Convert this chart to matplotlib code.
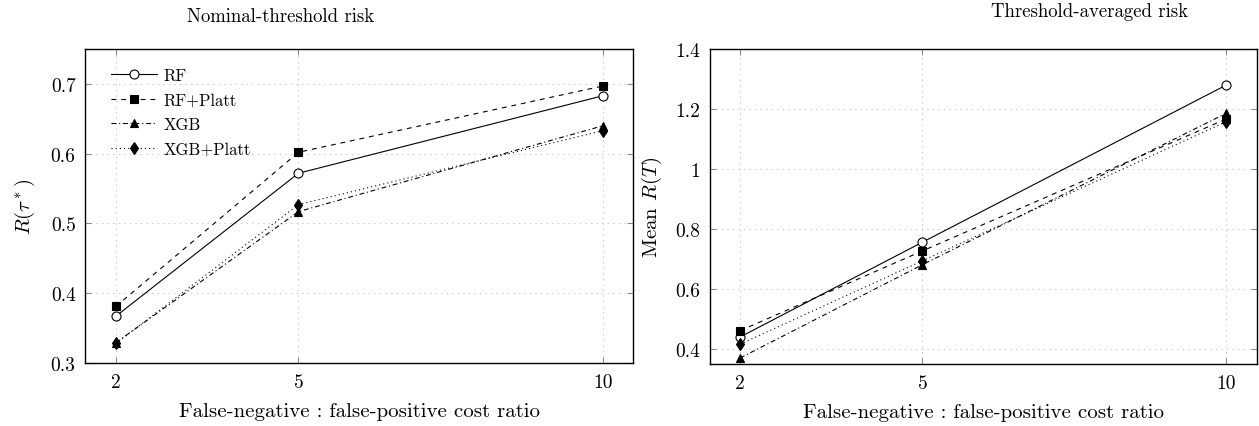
import matplotlib
matplotlib.use("Agg")
import matplotlib.pyplot as plt

plt.rcParams['font.family'] = ['cmr10', 'DejaVu Serif']
plt.rcParams['mathtext.fontset'] = 'cm'
plt.rcParams['axes.formatter.use_mathtext'] = True
plt.rcParams['lines.scale_dashes'] = False

# ---- data ----
cost_ratio = [2, 5, 10]
series_names = ["RF", "RF+Platt", "XGB", "XGB+Platt"]

nominal_rf = [0.367, 0.572, 0.683]
nominal_rf_platt = [0.381, 0.602, 0.697]
nominal_xgb = [0.329, 0.517, 0.640]
nominal_xgb_platt = [0.328, 0.527, 0.633]

avg_rf = [0.440, 0.756, 1.280]
avg_rf_platt = [0.461, 0.727, 1.167]
avg_xgb = [0.370, 0.681, 1.186]
avg_xgb_platt = [0.416, 0.694, 1.158]

left_yticks = [0.3, 0.4, 0.5, 0.6, 0.7]
left_yticklabels = ["0.3", "0.4", "0.5", "0.6", "0.7"]
right_yticks = [0.4, 0.6, 0.8, 1.0, 1.2, 1.4]
right_yticklabels = ["0.4", "0.6", "0.8", "1", "1.2", "1.4"]
xticklabels = ["2", "5", "10"]

styles = [
    dict(linestyle='-', marker='o', markerfacecolor='white', markersize=6.5),
    dict(linestyle=(0, (3.5, 3.5)), marker='s', markerfacecolor='black', markersize=5.5),
    dict(linestyle=(0, (3.5, 2, 0.8, 2)), marker='^', markerfacecolor='black', markersize=6),
    dict(linestyle=(0, (0.8, 2.2)), marker='d', markerfacecolor='black', markersize=6.5),
]

fig = plt.figure(figsize=(12.59, 4.27), dpi=100)
ax1 = fig.add_axes([0.0678, 0.1475, 0.4353, 0.7354])
ax2 = fig.add_axes([0.5637, 0.1452, 0.4345, 0.7377])

def style_axes(ax, yticks, yticklabels, ylim):
    ax.set_xlim(1.5, 10.5)
    ax.set_ylim(*ylim)
    ax.set_xticks(cost_ratio)
    ax.set_xticklabels(xticklabels, fontsize=14)
    ax.set_yticks(yticks)
    ax.set_yticklabels(yticklabels, fontsize=14)
    ax.tick_params(direction='in', length=4, width=0.8, color='#8a8a8a',
                   top=True, right=True, pad=7)
    ax.grid(True, color='#c8c8c8', linestyle=(0, (1, 3)), linewidth=0.7)
    ax.set_axisbelow(True)
    for s in ax.spines.values():
        s.set_linewidth(1.0)
        s.set_color('black')
    ax.set_xlabel("False-negative : false-positive cost ratio", fontsize=15, labelpad=8)

left_data = [nominal_rf, nominal_rf_platt, nominal_xgb, nominal_xgb_platt]
right_data = [avg_rf, avg_rf_platt, avg_xgb, avg_xgb_platt]

for name, ys, st in zip(series_names, left_data, styles):
    ax1.plot(cost_ratio, ys, color='black', linewidth=0.8, markeredgecolor='black',
             markeredgewidth=0.8, label=name, **st)
for name, ys, st in zip(series_names, right_data, styles):
    ax2.plot(cost_ratio, ys, color='black', linewidth=0.8, markeredgecolor='black',
             markeredgewidth=0.8, label=name, **st)

style_axes(ax1, left_yticks, left_yticklabels, (0.3, 0.75))
style_axes(ax2, right_yticks, right_yticklabels, (0.35, 1.4))

ax1.set_ylabel(r"$R(\tau^*)$", fontsize=15, labelpad=10)
ax2.set_ylabel(r"Mean $R(T)$", fontsize=15, labelpad=8)

ax1.text(0.356, 1.105, "Nominal-threshold risk", transform=ax1.transAxes,
         fontsize=13.5, ha='center', va='center')
ax2.text(0.695, 1.121, "Threshold-averaged risk", transform=ax2.transAxes,
         fontsize=13.5, ha='center', va='center')

ax1.legend(loc='upper left', frameon=False, fontsize=12, handlelength=2.75,
           handletextpad=0.4, labelspacing=0.55, borderaxespad=0.0, borderpad=0.0,
           bbox_to_anchor=(0.047, 0.94))

fig.savefig("out.png", dpi=100)
